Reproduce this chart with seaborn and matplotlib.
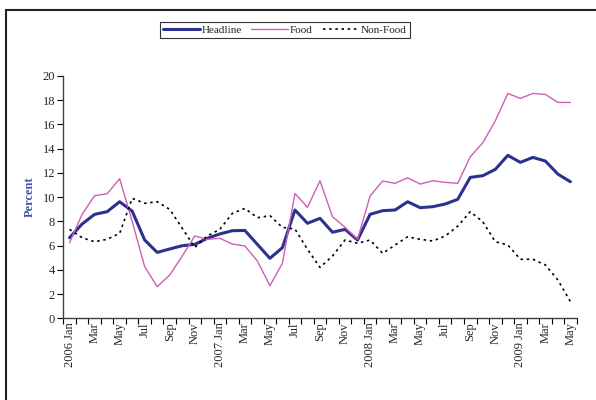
import matplotlib
matplotlib.use("Agg")
import matplotlib.pyplot as plt
from matplotlib.patches import Rectangle
import numpy as np
import pandas as pd
import seaborn as sns

# Monthly inflation rates, Jan 2006 - May 2009 (percent, year-on-year)
months = ["Jan", "Feb", "Mar", "Apr", "May", "Jun", "Jul", "Aug", "Sep", "Oct", "Nov", "Dec"]
periods = [f"{y} {m}" for y in (2006, 2007, 2008) for m in months] + \
          [f"2009 {m}" for m in months[:5]]

headline = [6.65, 7.78, 8.58, 8.80, 9.62, 8.85, 6.46, 5.44, 5.72, 5.99,
            6.10, 6.60, 6.96, 7.23, 7.25, 6.10, 4.95, 5.83, 8.94, 7.84,
            8.25, 7.10, 7.34, 6.46, 8.58, 8.88, 8.94, 9.62, 9.13, 9.21,
            9.43, 9.82, 11.63, 11.77, 12.29, 13.45, 12.87, 13.28, 12.98, 11.90,
            11.27]
food = [6.24, 8.58, 10.12, 10.28, 11.52, 8.00, 4.26, 2.61, 3.57, 5.14,
        6.79, 6.52, 6.60, 6.13, 5.97, 4.73, 2.69, 4.54, 10.31, 9.16,
        11.35, 8.38, 7.51, 6.52, 10.09, 11.33, 11.14, 11.60, 11.08, 11.35,
        11.22, 11.14, 13.33, 14.49, 16.30, 18.56, 18.15, 18.56, 18.48, 17.82,
        17.82]
non_food = [7.34, 6.65, 6.32, 6.52, 7.01, 9.90, 9.49, 9.62, 8.99, 7.43,
            5.85, 6.79, 7.34, 8.66, 9.07, 8.30, 8.47, 7.50, 7.37, 5.69,
            4.20, 5.14, 6.46, 6.19, 6.46, 5.36, 6.05, 6.73, 6.52, 6.38,
            6.79, 7.60, 8.80, 7.97, 6.32, 6.05, 4.87, 4.87, 4.40, 3.16,
            1.37]

# Tick labels: every other month, with the year on January
tick_labels = [("%s Jan" % p[:4]) if p.endswith("Jan") else p[5:]
               for p in periods[::2]]

df = pd.DataFrame({"idx": np.arange(len(periods)), "period": periods,
                   "Headline": headline, "Food": food, "Non-Food": non_food})

sns.set_theme(style="white")
plt.rcParams["font.family"] = ["Liberation Serif", "DejaVu Serif"]

fig = plt.figure(figsize=(5.96, 4.0), dpi=100)
ax = fig.add_axes([0.1062, 0.2043, 0.8614, 0.6057])

series_style = {
    "Headline": dict(color="#2B318F", lw=2.2, ls="-"),
    "Food": dict(color="#CC5FB8", lw=1.0, ls="-"),
    "Non-Food": dict(color="black", lw=1.2, ls=(0, (1.5, 2.2))),
}
for name, st in series_style.items():
    sns.lineplot(data=df, x="idx", y=name, ax=ax, color=st["color"],
                 linewidth=st["lw"], linestyle=st["ls"], label=name, legend=False)

ax.set_xlim(-0.5, len(periods) - 0.5)
ax.set_ylim(0, 20)
ax.set_yticks(np.arange(0, 21, 2))
ax.set_yticklabels([str(v) for v in range(0, 21, 2)], fontsize=9)

# category boundaries carry the tick marks, labels sit at category centres
ax.set_xticks(np.arange(-0.5, len(periods), 1.0))
ax.set_xticklabels([])
ax.set_xticks(np.arange(0, len(periods), 2), minor=True)
ax.set_xticklabels(tick_labels, minor=True, rotation=90, fontsize=9)
ax.tick_params(axis="x", which="major", direction="out", length=4, width=0.8,
               color="black", bottom=True)
ax.tick_params(axis="x", which="minor", length=0, pad=3, bottom=True)
ax.tick_params(axis="y", direction="out", length=4, width=0.8, color="black",
               left=True, pad=2)

for side in ("top", "right"):
    ax.spines[side].set_visible(False)
for side in ("left", "bottom"):
    ax.spines[side].set_color("#404040")
    ax.spines[side].set_linewidth(1.0)

ax.set_xlabel("")
ax.set_ylabel("Percent", fontsize=9, fontweight="bold", color="#3A5BA8", labelpad=5)
ax.grid(False)

handles, labels = ax.get_legend_handles_labels()
leg = fig.legend(handles, labels, loc="center", bbox_to_anchor=(0.478, 0.925),
                 ncol=3, fontsize=8, frameon=True, fancybox=False,
                 handlelength=3.3, handletextpad=0.15, columnspacing=0.9,
                 borderpad=0.3, borderaxespad=0)
leg.get_frame().set_edgecolor("black")
leg.get_frame().set_linewidth(0.8)

# frame around the chart area
fig.patches.append(Rectangle((6 / 596, -0.1), 1.2, 1.1 - 10 / 400,
                             transform=fig.transFigure, fill=False,
                             edgecolor="#222222", linewidth=1.5))

fig.savefig("out.png", dpi=100)
